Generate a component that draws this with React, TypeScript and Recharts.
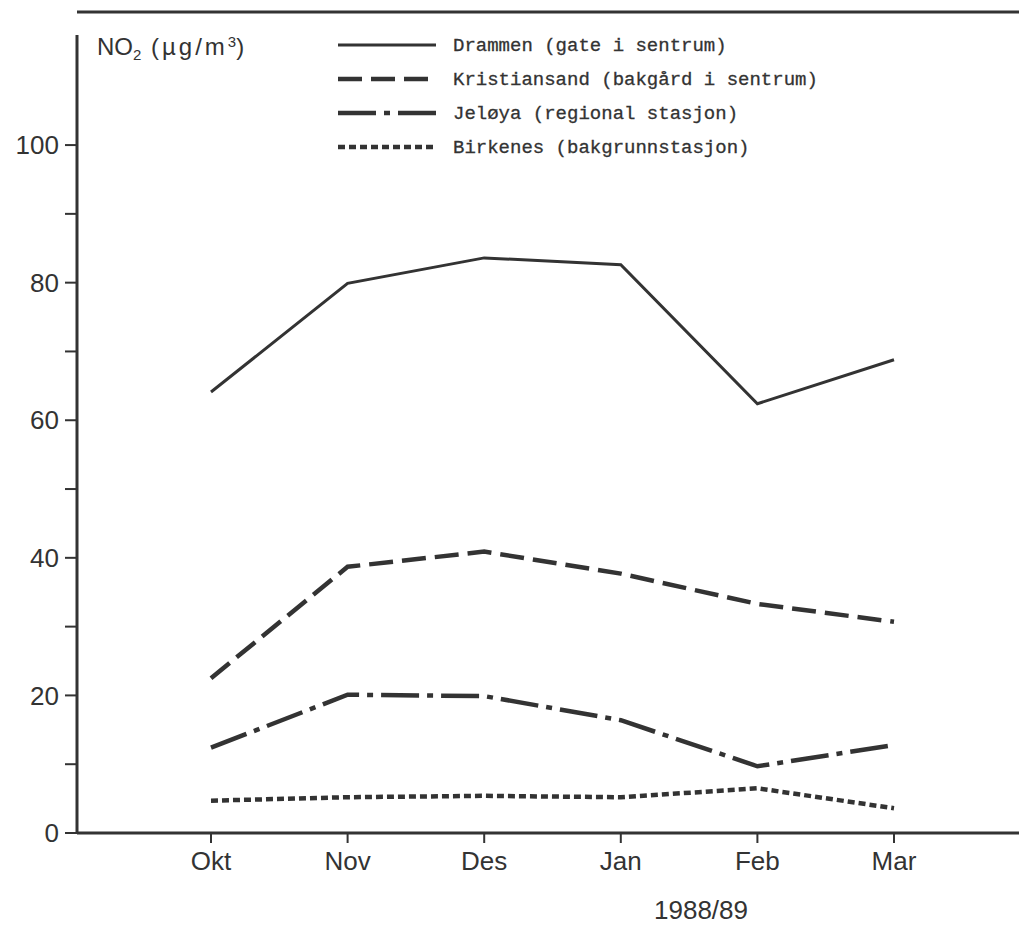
import React from 'react';
import { LineChart, Line, XAxis, YAxis, ReferenceLine, Customized } from 'recharts';

// Monthly mean NO2, winter 1988/89
const months = ['Okt', 'Nov', 'Des', 'Jan', 'Feb', 'Mar'];
const drammen = [64.1, 79.9, 83.6, 82.6, 62.4, 68.8];
const kristiansand = [22.5, 38.7, 40.9, 37.7, 33.3, 30.7];
const jeloya = [12.4, 20.1, 19.9, 16.4, 9.7, 12.8];
const birkenes = [4.7, 5.2, 5.4, 5.2, 6.5, 3.6];
const yTicks = [0, 10, 20, 30, 40, 50, 60, 70, 80, 90, 100];

const INK = '#333';
const SANS = '"Liberation Sans", Arial, sans-serif';
const MONO = '"Liberation Mono", "Courier New", monospace';

const series = [
  { key: 'drammen', name: 'Drammen (gate i sentrum)', dash: undefined, width: 3 },
  { key: 'kristiansand', name: 'Kristiansand (bakgård i sentrum)', dash: '24 9', width: 4.5 },
  { key: 'jeloya', name: 'Jeløya (regional stasjon)', dash: '38 8 6 8', width: 4.5 },
  { key: 'birkenes', name: 'Birkenes (bakgrunnstasjon)', dash: '7 4', width: 4.5 },
];

const data = months.map((m, i) => ({
  month: m,
  drammen: drammen[i],
  kristiansand: kristiansand[i],
  jeloya: jeloya[i],
  birkenes: birkenes[i],
}));

// unit label, legend and the season caption under the axis
const Annotations = () => (
  <g>
    <text x={97} y={55} fill={INK} fontFamily={SANS} fontSize={24}>
      NO
      <tspan fontSize={15} dy={5}>2</tspan>
      <tspan dy={-5} letterSpacing={3}> (µg/m</tspan>
      <tspan fontSize={15} dy={-8}>3</tspan>
      <tspan dy={8}>)</tspan>
    </text>
    {series.map((s, i) => {
      const y = 45 + i * 34;
      return (
        <g key={s.key}>
          <line x1={338} x2={436} y1={y} y2={y} stroke={INK} strokeWidth={s.width} strokeDasharray={s.dash} />
          <text x={453} y={y + 6} fill={INK} fontFamily={MONO} fontSize={19} stroke={INK} strokeWidth={0.3}>
            {s.name}
          </text>
        </g>
      );
    })}
    <text x={701} y={919} fill={INK} fontFamily={SANS} fontSize={26} textAnchor="middle">
      1988/89
    </text>
  </g>
);

export default function App() {
  return (
    <div style={{ position: 'absolute', left: 0, top: 0, background: '#fff' }}>
      <LineChart width={1019} height={925} data={data} margin={{ top: 35, right: 0, left: 0, bottom: 32 }}>
        <XAxis
          dataKey="month"
          height={60}
          padding={{ left: 134, right: 125 }}
          axisLine={{ stroke: INK, strokeWidth: 3 }}
          tickLine={{ stroke: INK, strokeWidth: 2 }}
          tickSize={10}
          tickMargin={9}
          tick={{ fill: INK, fontFamily: SANS, fontSize: 26 }}
        />
        <YAxis
          width={77}
          domain={[0, 116]}
          ticks={yTicks}
          interval={0}
          axisLine={{ stroke: INK, strokeWidth: 3 }}
          tickLine={{ stroke: INK, strokeWidth: 2 }}
          tickSize={12}
          tickMargin={6}
          tickFormatter={(v: number) => (v % 20 === 0 ? String(v) : '')}
          tick={{ fill: INK, fontFamily: SANS, fontSize: 26 }}
        />
        <ReferenceLine y={119.35} ifOverflow="visible" stroke={INK} strokeWidth={3} />
        {series.map((s) => (
          <Line
            key={s.key}
            type="linear"
            dataKey={s.key}
            name={s.name}
            stroke={INK}
            strokeWidth={s.width}
            strokeDasharray={s.dash}
            dot={false}
            activeDot={false}
            isAnimationActive={false}
          />
        ))}
        <Customized component={Annotations} />
      </LineChart>
    </div>
  );
}
